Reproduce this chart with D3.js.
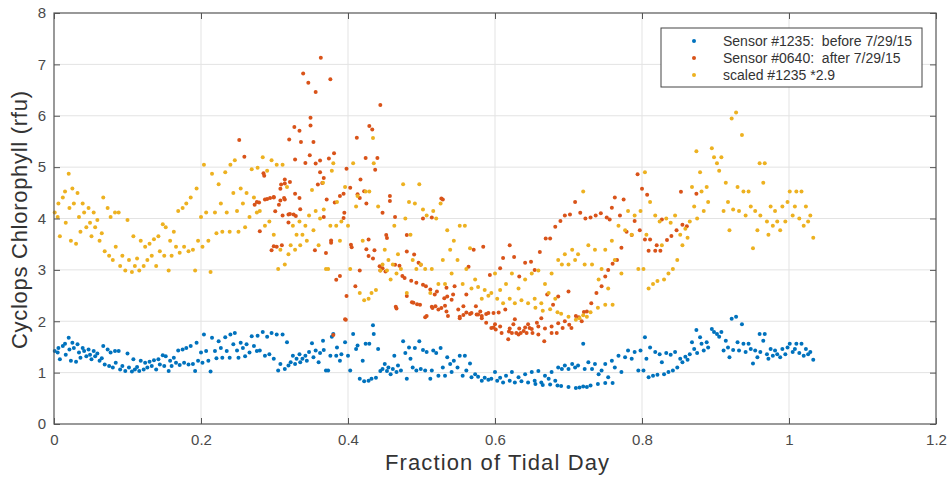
<!DOCTYPE html>
<html>
<head>
<meta charset="utf-8">
<script src="https://cdn.jsdelivr.net/npm/d3@7"></script>
<style>
  body { margin: 0; background: #fff; }
  text { font-family: "Liberation Sans", Arial, sans-serif; }
</style>
</head>
<body>
<div id="chart"></div>
<script>
// data: [fraction of tidal day, rfu]
var sensor1235 = [
  [.001,1.42],[.005,1.39],[.006,1.48],[.008,1.26],[.012,1.52],[.015,1.56],[.016,1.35],[.020,1.68],[.021,1.45],[.023,1.23],
  [.025,1.58],[.027,1.48],[.030,1.21],[.032,1.55],[.034,1.39],[.036,1.29],[.039,1.48],[.041,1.42],[.044,1.32],[.047,1.45],
  [.049,1.35],[.051,1.26],[.054,1.42],[.056,1.32],[.059,1.37],[.062,1.23],[.065,1.28],[.067,1.52],[.069,1.16],[.073,1.45],
  [.075,1.13],[.077,1.39],[.080,1.10],[.083,1.42],[.084,1.19],[.088,1.42],[.090,1.06],[.093,1.13],[.097,1.03],[.100,1.37],
  [.102,1.10],[.106,1.02],[.108,1.26],[.110,1.06],[.113,1.11],[.116,1.03],[.118,1.23],[.122,1.06],[.124,1.19],[.127,1.10],
  [.130,1.21],[.133,1.13],[.136,1.24],[.139,1.06],[.142,1.26],[.144,1.16],[.148,1.34],[.150,1.13],[.152,1.32],[.156,1.03],
  [.158,1.23],[.160,1.13],[.163,1.29],[.166,1.19],[.169,1.43],[.171,1.15],[.175,1.45],[.177,1.19],[.180,1.48],[.183,1.16],
  [.186,1.52],[.189,1.17],[.192,1.03],[.194,1.58],[.196,1.23],[.200,1.39],[.202,1.19],[.204,1.74],[.207,1.42],[.210,1.23],
  [.213,1.02],[.215,1.68],[.219,1.42],[.221,1.28],[.224,1.61],[.227,1.48],[.229,1.29],[.233,1.69],[.235,1.42],[.239,1.29],
  [.240,1.74],[.244,1.55],[.246,1.77],[.249,1.43],[.251,1.29],[.254,1.58],[.257,1.48],[.260,1.32],[.262,1.55],[.266,1.39],
  [.269,1.71],[.272,1.52],[.276,1.42],[.277,1.72],[.280,1.43],[.284,1.79],[.287,1.33],[.290,1.70],[.293,1.36],[.296,1.77],
  [.299,1.27],[.303,1.74],[.305,1.04],[.308,1.17],[.311,1.74],[.314,1.07],[.317,1.59],[.319,1.14],[.322,1.20],[.325,1.33],
  [.328,1.17],[.330,1.27],[.334,1.36],[.335,1.20],[.338,1.27],[.342,1.33],[.344,1.23],[.347,1.40],[.351,1.57],[.353,1.30],
  [.356,1.43],[.360,1.20],[.362,1.38],[.366,1.62],[.367,1.44],[.370,1.04],[.373,1.04],[.376,1.33],[.378,1.70],[.380,1.75],
  [.384,1.33],[.385,1.49],[.389,1.23],[.391,1.36],[.396,1.59],[.400,1.33],[.403,1.04],[.407,1.75],[.411,1.46],[.413,1.53],
  [.416,0.88],[.420,1.23],[.422,0.83],[.424,1.56],[.428,0.84],[.429,1.56],[.432,0.88],[.434,1.92],[.435,1.75],[.438,0.90],
  [.441,1.46],[.444,1.03],[.447,1.07],[.450,1.17],[.453,1.03],[.455,1.10],[.458,0.97],[.461,1.07],[.463,1.33],[.466,1.01],
  [.468,1.14],[.472,1.04],[.475,1.61],[.478,1.38],[.480,0.88],[.483,1.49],[.485,1.27],[.488,1.10],[.491,1.48],[.493,1.04],
  [.497,1.61],[.499,1.07],[.502,1.44],[.505,1.04],[.507,1.40],[.512,0.88],[.514,1.04],[.516,1.43],[.520,1.38],[.523,0.94],
  [.526,1.48],[.529,1.10],[.532,0.94],[.535,1.30],[.539,1.17],[.541,1.01],[.544,1.23],[.549,1.10],[.552,1.33],[.556,0.94],
  [.559,1.33],[.561,1.04],[.566,1.18],[.568,0.91],[.573,0.97],[.577,0.92],[.582,0.84],[.586,0.90],[.591,0.86],[.595,0.88],
  [.600,1.01],[.603,0.84],[.607,0.90],[.611,0.81],[.615,0.94],[.620,0.84],[.623,1.01],[.627,0.81],[.632,0.91],[.636,0.83],
  [.641,0.97],[.645,0.81],[.650,1.01],[.654,0.84],[.655,0.78],[.659,1.03],[.663,0.81],[.665,0.76],[.668,0.94],[.673,0.88],
  [.675,0.77],[.677,1.01],[.682,0.84],[.685,0.75],[.686,1.10],[.690,0.74],[.691,1.07],[.695,1.14],[.700,0.72],[.700,1.07],
  [.705,1.17],[.709,1.10],[.710,0.70],[.713,1.14],[.715,0.71],[.720,1.56],[.720,0.73],[.722,1.07],[.725,0.72],[.727,1.20],
  [.730,0.75],[.732,1.07],[.736,1.17],[.740,0.78],[.741,0.97],[.745,1.04],[.750,1.17],[.750,0.80],[.754,0.91],[.759,1.23],
  [.760,0.80],[.763,1.10],[.768,1.33],[.772,1.01],[.777,1.30],[.781,1.43],[.786,1.27],[.790,1.40],[.795,1.04],[.798,1.43],
  [.802,1.04],[.804,1.69],[.806,1.27],[.809,0.91],[.811,1.49],[.815,0.94],[.818,1.40],[.821,0.96],[.824,1.36],[.827,1.20],
  [.830,0.97],[.833,1.38],[.836,1.01],[.839,1.35],[.842,1.04],[.845,1.40],[.848,1.10],[.852,1.27],[.855,1.20],[.859,1.31],
  [.862,1.25],[.865,1.36],[.868,1.59],[.871,1.46],[.874,1.83],[.875,1.38],[.879,1.69],[.881,1.56],[.884,1.43],[.888,1.59],
  [.890,1.49],[.895,1.85],[.898,1.79],[.902,1.75],[.905,1.70],[.908,1.79],[.911,1.43],[.914,1.62],[.917,1.49],[.919,1.30],
  [.922,2.05],[.924,1.44],[.928,2.09],[.930,1.59],[.932,1.43],[.936,1.94],[.938,1.56],[.941,1.40],[.945,1.56],[.948,1.46],
  [.951,1.18],[.954,1.43],[.957,1.30],[.960,1.75],[.961,1.40],[.965,1.62],[.967,1.75],[.970,1.36],[.972,1.27],[.975,1.46],
  [.978,1.33],[.981,1.43],[.984,1.36],[.988,1.30],[.991,1.46],[.995,1.36],[.998,1.49],[1.001,1.56],[1.005,1.40],[1.008,1.46],
  [1.010,1.56],[1.014,1.38],[1.017,1.56],[1.020,1.33],[1.023,1.46],[1.026,1.36],[1.029,1.40],[1.033,1.25]
];

var sensor0640 = [
  [.252,5.53],[.259,5.20],[.273,4.27],[.276,4.32],[.279,4.31],[.285,4.88],[.286,4.83],[.287,4.37],[.290,4.38],[.294,4.40],
  [.299,4.42],[.299,4.41],[.280,3.75],[.296,3.38],[.299,3.46],[.301,4.14],[.303,3.45],[.306,4.27],[.308,4.58],[.308,4.35],
  [.309,4.66],[.310,3.48],[.311,4.06],[.313,4.40],[.314,4.68],[.314,4.37],[.314,4.76],[.319,4.08],[.319,3.92],[.320,5.54],
  [.321,4.71],[.321,4.09],[.326,4.08],[.327,5.78],[.328,5.15],[.328,4.48],[.329,4.05],[.334,5.71],[.334,4.40],[.335,4.18],
  [.336,5.49],[.339,6.82],[.342,5.08],[.346,6.64],[.348,5.23],[.349,5.96],[.349,5.81],[.353,5.49],[.355,3.38],[.356,6.46],
  [.356,5.07],[.359,4.66],[.362,5.13],[.362,4.90],[.363,7.13],[.365,4.69],[.367,4.79],[.367,4.03],[.370,3.33],[.371,4.37],
  [.374,5.17],[.376,6.71],[.377,3.57],[.377,3.53],[.380,1.73],[.381,5.27],[.382,4.31],[.384,2.81],[.389,4.44],[.389,2.88],
  [.394,4.48],[.394,4.01],[.395,4.11],[.396,2.04],[.397,2.03],[.398,4.97],[.398,2.49],[.403,4.60],[.404,3.49],[.405,3.44],
  [.410,2.68],[.412,5.57],[.413,4.47],[.416,4.40],[.416,2.99],[.417,4.76],[.422,4.53],[.424,5.18],[.425,4.29],[.425,3.40],
  [.428,3.59],[.428,3.27],[.429,5.80],[.433,5.73],[.434,3.22],[.436,3.38],[.437,4.95],[.440,5.18],[.443,3.07],[.444,6.21],
  [.444,2.99],[.447,4.11],[.447,3.03],[.451,2.97],[.452,3.68],[.453,3.62],[.457,4.44],[.457,4.34],[.464,4.03],[.464,3.10],
  [.465,2.28],[.466,2.25],[.470,3.08],[.474,2.88],[.477,2.84],[.480,3.68],[.480,3.36],[.480,2.49],[.486,2.79],[.487,2.37],
  [.489,2.36],[.490,3.30],[.493,2.75],[.494,2.33],[.496,3.14],[.498,2.32],[.499,3.10],[.502,4.00],[.502,2.71],[.505,2.08],
  [.506,2.68],[.507,2.10],[.512,2.62],[.514,4.02],[.514,2.28],[.515,2.26],[.518,2.52],[.519,2.29],[.521,2.58],[.523,2.23],
  [.527,4.39],[.527,2.26],[.529,4.37],[.531,2.45],[.532,2.30],[.534,2.65],[.534,2.19],[.535,2.48],[.536,2.10],[.541,2.42],
  [.543,2.52],[.545,2.68],[.550,2.23],[.552,2.06],[.552,2.09],[.557,2.29],[.557,2.12],[.561,2.52],[.561,2.17],[.564,3.06],
  [.566,2.14],[.568,2.16],[.571,3.39],[.574,2.29],[.575,2.13],[.577,2.13],[.580,2.19],[.582,2.06],[.582,2.10],[.584,3.45],
  [.588,1.97],[.588,2.14],[.591,2.16],[.593,2.90],[.595,1.87],[.598,2.16],[.598,1.88],[.600,1.94],[.601,1.84],[.605,2.17],
  [.607,3.03],[.607,1.90],[.609,1.77],[.611,3.23],[.614,2.23],[.618,1.65],[.619,1.80],[.620,3.48],[.620,1.86],[.623,1.77],
  [.625,1.94],[.626,3.25],[.627,2.04],[.629,1.77],[.632,1.74],[.633,2.87],[.633,1.86],[.635,1.77],[.639,1.81],[.641,3.14],
  [.641,1.88],[.643,1.77],[.645,1.94],[.647,1.87],[.649,3.16],[.650,1.85],[.651,1.77],[.654,3.00],[.657,1.97],[.659,1.74],
  [.659,1.90],[.661,3.35],[.663,2.06],[.667,1.61],[.668,1.86],[.669,3.61],[.671,2.52],[.675,3.61],[.677,1.77],[.677,1.90],
  [.679,2.32],[.682,3.84],[.684,1.77],[.686,2.48],[.686,1.96],[.689,3.95],[.692,1.87],[.695,4.06],[.695,2.00],[.700,2.58],
  [.701,1.93],[.702,4.08],[.704,1.87],[.709,4.32],[.710,2.10],[.714,2.08],[.716,4.11],[.718,2.00],[.721,2.18],[.723,4.00],
  [.725,2.19],[.730,4.02],[.731,2.35],[.737,4.06],[.738,2.55],[.744,4.10],[.745,2.68],[.750,2.87],[.752,4.02],[.754,3.00],
  [.756,3.98],[.759,4.21],[.760,3.12],[.763,4.41],[.766,3.19],[.770,4.06],[.772,3.43],[.775,4.37],[.779,3.74],[.786,3.68],
  [.790,3.95],[.794,4.86],[.797,3.77],[.800,4.58],[.804,3.59],[.807,4.46],[.809,3.37],[.811,3.59],[.818,3.37],[.820,3.48],
  [.825,3.37],[.827,3.98],[.834,3.58],[.840,3.66],[.847,3.77],[.853,4.52],[.855,3.88],[.861,3.85],[.874,4.48]
];

// third series is sensor #1235 scaled by the factor named in the legend
var scaleFactor = 2.9;

var seriesNames = ["Sensor #1235:  before 7/29/15", "Sensor #0640:  after 7/29/15", "scaled #1235 *2.9"];
var seriesColors = ["#0072BD", "#D95319", "#EDB120"];

var xTicks = [0, 0.2, 0.4, 0.6, 0.8, 1, 1.2];
var yTicks = [0, 1, 2, 3, 4, 5, 6, 7, 8];

var W = 952, H = 479;
var box = {left: 54, right: 936, top: 13, bottom: 424};

var svg = d3.select("#chart")
  .append("svg")
    .attr("width", W)
    .attr("height", H);

var x = d3.scaleLinear().domain([0, 1.2]).range([box.left, box.right]);
var y = d3.scaleLinear().domain([0, 8]).range([box.bottom, box.top]);

// grid
svg.append("g")
  .selectAll("line")
  .data(xTicks.slice(1, -1))
  .enter().append("line")
    .attr("x1", function(d) { return x(d); })
    .attr("x2", function(d) { return x(d); })
    .attr("y1", box.top)
    .attr("y2", box.bottom)
    .attr("stroke", "#e3e3e3");
svg.append("g")
  .selectAll("line")
  .data(yTicks.slice(1, -1))
  .enter().append("line")
    .attr("y1", function(d) { return y(d); })
    .attr("y2", function(d) { return y(d); })
    .attr("x1", box.left)
    .attr("x2", box.right)
    .attr("stroke", "#e3e3e3");

// points: blue, red, then yellow on top
var layers = [
  sensor1235,
  sensor0640,
  sensor1235.map(function(d) { return [d[0], d[1] * scaleFactor]; })
];
layers.forEach(function(pts, i) {
  svg.append("g")
    .selectAll("circle")
    .data(pts)
    .enter().append("circle")
      .attr("cx", function(d) { return x(d[0]); })
      .attr("cy", function(d) { return y(d[1]); })
      .attr("r", 2)
      .attr("fill", seriesColors[i]);
});

// axes, ticks pointing inward on all four sides
function styleAxis(g) {
  g.select(".domain").remove();
  g.selectAll(".tick line").attr("stroke", "#555").attr("stroke-width", 1);
  g.selectAll(".tick text").attr("fill", "#4a4a4a").style("font-size", "15px");
}
svg.append("g")
  .attr("transform", "translate(0," + box.bottom + ")")
  .call(d3.axisBottom(x).tickValues(xTicks).tickFormat(String).tickSizeInner(-6).tickSizeOuter(0).tickPadding(10))
  .call(styleAxis);
svg.append("g")
  .attr("transform", "translate(0," + box.top + ")")
  .call(d3.axisTop(x).tickValues(xTicks).tickFormat("").tickSizeInner(-6).tickSizeOuter(0))
  .call(styleAxis);
svg.append("g")
  .attr("transform", "translate(" + box.left + ",0)")
  .call(d3.axisLeft(y).tickValues(yTicks).tickFormat(String).tickSizeInner(-6).tickSizeOuter(0).tickPadding(8))
  .call(styleAxis);
svg.append("g")
  .attr("transform", "translate(" + box.right + ",0)")
  .call(d3.axisRight(y).tickValues(yTicks).tickFormat("").tickSizeInner(-6).tickSizeOuter(0))
  .call(styleAxis);

svg.append("rect")
  .attr("x", box.left)
  .attr("y", box.top)
  .attr("width", box.right - box.left)
  .attr("height", box.bottom - box.top)
  .attr("fill", "none")
  .attr("stroke", "#555")
  .attr("stroke-width", 1.2);

// axis labels
svg.append("text")
  .attr("x", 497)
  .attr("y", 470)
  .attr("text-anchor", "middle")
  .attr("fill", "#333")
  .attr("textLength", 224)
  .style("font-size", "22px")
  .text("Fraction of Tidal Day");
svg.append("text")
  .attr("transform", "translate(27,220) rotate(-90)")
  .attr("text-anchor", "middle")
  .attr("fill", "#333")
  .attr("textLength", 258)
  .style("font-size", "22px")
  .text("Cyclops Chlorophyll (rfu)");

// legend
var legend = svg.append("g").attr("transform", "translate(661,28)");
legend.append("rect")
  .attr("width", 261)
  .attr("height", 59)
  .attr("fill", "#fff")
  .attr("stroke", "#444")
  .attr("stroke-width", 1);
seriesNames.forEach(function(name, i) {
  var ly = 13 + i * 17;
  legend.append("circle")
    .attr("cx", 33)
    .attr("cy", ly)
    .attr("r", 2)
    .attr("fill", seriesColors[i]);
  legend.append("text")
    .attr("x", 62)
    .attr("y", ly + 5)
    .attr("fill", "#333")
    .style("font-size", "14px")
    .style("white-space", "pre")
    .attr("xml:space", "preserve")
    .text(name);
});
</script>
</body>
</html>
